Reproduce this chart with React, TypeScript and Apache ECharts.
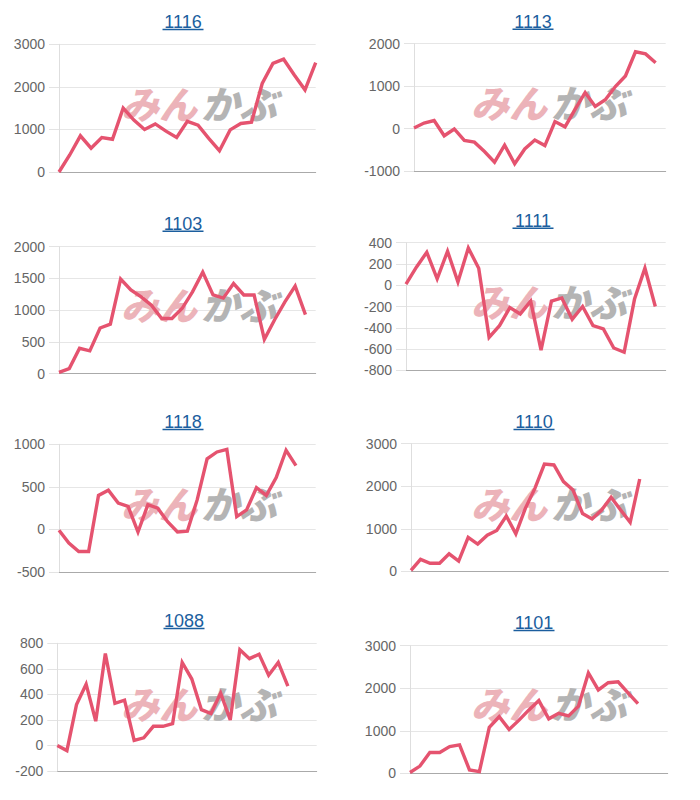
import React, { useEffect, useRef } from "react";
import * as echarts from "echarts";

// ---- data ----
const titles = ["1116", "1113", "1103", "1111", "1118", "1110", "1088", "1101"];

const d1116 = [0, 400, 850, 560, 810, 770, 1500, 1220, 1000, 1130, 960, 810, 1190, 1100, 790, 500, 990, 1140, 1170, 2080, 2550, 2650, 2280, 1930, 2570];
const d1113 = [15, 130, 190, -170, -10, -280, -320, -540, -790, -390, -830, -480, -270, -400, 165, 40, 450, 850, 520, 680, 990, 1240, 1810, 1760, 1550];
const d1103 = [20, 80, 400, 360, 720, 780, 1490, 1320, 1210, 1080, 870, 870, 1030, 1290, 1600, 1240, 1190, 1420, 1240, 1240, 540, 850, 1130, 1380, 930];
const d1111 = [10, 170, 310, 60, 320, 30, 350, 160, -490, -380, -210, -270, -150, -610, -150, -120, -320, -200, -380, -410, -590, -630, -130, 160, -200];
const d1118 = [-10, -160, -260, -260, 400, 460, 310, 270, -30, 290, 250, 90, -30, -20, 350, 830, 910, 940, 150, 230, 490, 400, 610, 930, 750];
const d1110 = [20, 280, 190, 190, 410, 240, 800, 640, 850, 960, 1300, 880, 1480, 1950, 2520, 2500, 2110, 1910, 1360, 1230, 1440, 1740, 1440, 1150, 2170];
const d1088 = [0, -40, 320, 480, 190, 720, 330, 355, 40, 60, 150, 150, 170, 650, 520, 280, 250, 410, 200, 750, 680, 715, 550, 650, 465];
const d1101 = [20, 170, 490, 490, 630, 670, 80, 40, 1080, 1330, 1030, 1250, 1490, 1710, 1280, 1410, 1350, 1580, 2360, 1960, 2130, 2150, 1890, 1640];

const seriesValues = [d1116, d1113, d1103, d1111, d1118, d1110, d1088, d1101];
const categoryCounts = [25, 26, 26, 26, 27, 28, 28, 27];
const yMins = [0, -1000, 0, -800, -500, 0, -200, 0];
const yMaxs = [3000, 2000, 2000, 400, 1000, 3000, 800, 3000];
const ySteps = [1000, 1000, 500, 200, 500, 1000, 200, 1000];

// ---- layout ----
const gridBoxes = [
  { left: 59, top: 44.3, width: 256.7, height: 127.7 },
  { left: 414, top: 43.7, width: 251.7, height: 127.3 },
  { left: 59, top: 246.7, width: 256.7, height: 127 },
  { left: 406, top: 242.7, width: 259.7, height: 127.6 },
  { left: 59, top: 444.3, width: 256.7, height: 127.7 },
  { left: 411, top: 443.7, width: 257.3, height: 127.6 },
  { left: 57.3, top: 643.3, width: 259.4, height: 127.7 },
  { left: 410, top: 645.7, width: 257.7, height: 127.6 },
];
const titlePos = [
  [183, 22], [533, 21.7], [183, 223.7], [533, 220.7],
  [183, 422], [534, 422], [184, 621], [534, 623],
];
const watermarkPos = [
  [200, 102], [550, 101], [200, 303], [550, 300],
  [200, 502], [550, 502], [200, 702], [550, 702],
];

const LINE_COLOR = "#e5536f";
const TITLE_COLOR = "#1b5e9e";
const FONT = '"Liberation Sans", Arial, sans-serif';

function buildOption() {
  const grid: any[] = [];
  const xAxis: any[] = [];
  const yAxis: any[] = [];
  const series: any[] = [];
  const graphic: any[] = [];

  titles.forEach((t, i) => {
    const cats = Array.from({ length: categoryCounts[i] }, (_, k) => String(k + 1));
    grid.push({ ...gridBoxes[i] });
    xAxis.push({
      type: "category",
      gridIndex: i,
      data: cats,
      boundaryGap: false,
      axisLine: { show: true, onZero: false, lineStyle: { color: "#aaaaaa", width: 1 } },
      axisTick: { show: false },
      axisLabel: { show: false },
      splitLine: { show: false },
    });
    yAxis.push({
      type: "value",
      gridIndex: i,
      min: yMins[i],
      max: yMaxs[i],
      interval: ySteps[i],
      axisLine: { show: true, lineStyle: { color: "#dedede" } },
      axisTick: { show: true, length: 10, lineStyle: { color: "#e3e3e3" } },
      axisLabel: {
        color: "#666666",
        fontSize: 14,
        fontFamily: FONT,
        margin: 14,
        formatter: (v: number) => String(v),
      },
      splitLine: { show: true, lineStyle: { color: "#e6e6e6", width: 1 } },
    });
    series.push({
      type: "line",
      name: t,
      xAxisIndex: i,
      yAxisIndex: i,
      data: seriesValues[i],
      showSymbol: false,
      symbol: "none",
      z: 3,
      lineStyle: { color: LINE_COLOR, width: 3.4, join: "miter", cap: "butt" },
    });

    const [wx, wy] = watermarkPos[i];
    graphic.push({
      type: "text",
      x: wx - 3,
      y: wy,
      z: 1,
      silent: true,
      style: {
        text: "みん",
        fill: "#ecb3b9",
        fontSize: 38,
        fontWeight: 900,
        fontStyle: "italic",
        fontFamily: '"Noto Sans CJK JP", sans-serif',
        align: "right",
        verticalAlign: "middle",
      },
    });
    graphic.push({
      type: "text",
      x: wx + 1,
      y: wy,
      z: 1,
      silent: true,
      style: {
        text: "かぶ",
        fill: "#b4b4b4",
        fontSize: 38,
        fontWeight: 900,
        fontStyle: "italic",
        fontFamily: '"Noto Sans CJK JP", sans-serif',
        align: "left",
        verticalAlign: "middle",
      },
    });

    const [tx, ty] = titlePos[i];
    graphic.push({
      type: "text",
      x: tx,
      y: ty,
      z: 5,
      style: {
        text: t,
        fill: TITLE_COLOR,
        fontSize: 18,
        fontFamily: FONT,
        align: "center",
        verticalAlign: "middle",
      },
    });
    graphic.push({
      type: "line",
      z: 5,
      silent: true,
      shape: { x1: tx - 20.5, y1: ty + 7.5, x2: tx + 20.5, y2: ty + 7.5 },
      style: { stroke: TITLE_COLOR, lineWidth: 1.5 },
    });
  });

  return {
    animation: false,
    backgroundColor: "#ffffff",
    grid,
    xAxis,
    yAxis,
    series,
    graphic,
  };
}

export default function App() {
  const ref = useRef<HTMLDivElement>(null);
  useEffect(() => {
    if (!ref.current) return;
    const chart = echarts.init(ref.current, null, { renderer: "svg" });
    chart.setOption(buildOption());
    return () => chart.dispose();
  }, []);
  return (
    <div
      ref={ref}
      style={{ position: "absolute", left: 0, top: 0, width: 700, height: 800 }}
    />
  );
}
